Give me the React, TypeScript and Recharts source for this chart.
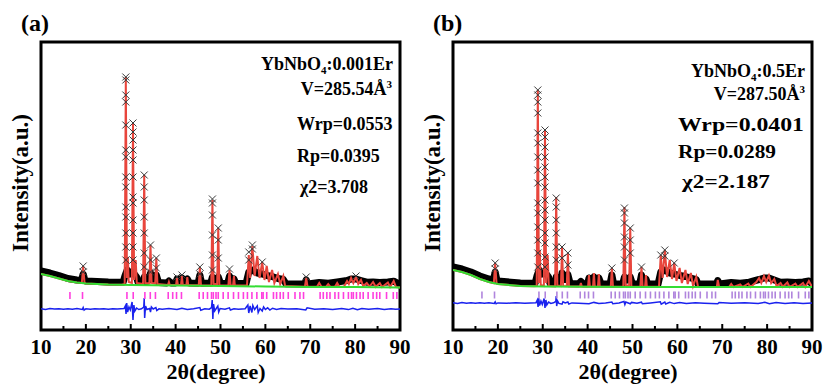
import React from 'react';
import { ComposedChart, Line, Scatter, XAxis, YAxis, ReferenceArea } from 'recharts';

type Pt = [number, number];

// ---------- shared ----------
const xTicks = [10, 15, 20, 25, 30, 35, 40, 45, 50, 55, 60, 65, 70, 75, 80, 85, 90];
const reflections = [
  16.45, 19.25, 29.15, 30.55, 33.15, 34.35, 35.5, 38.35, 39.35, 40.2, 41.3, 45.25, 46.15, 47.1, 48.0, 49.0,
  48.4, 49.5, 50.6, 51.7, 52.9, 54.0, 55.1, 56.0, 57.0, 58.1, 59.2, 59.5, 60.3, 61.8, 62.5, 63.3, 64.0, 65.1,
  66.6, 67.7, 68.5, 72.2, 72.9, 73.7, 74.4, 75.5, 76.3, 77.4, 78.5, 79.2, 79.6, 80.3, 81.1, 81.8, 82.9, 84.0,
  84.8, 85.5, 87.0, 88.5, 89.3,
];

// ---------- panel (a): YbNbO4:0.001Er ----------
const obsBandA: Pt[] = [
  [10, 590], [12, 570], [14, 545], [16, 515], [18, 500], [19, 498], [19.4, 560], [19.8, 494], [20, 490], [25, 480],
  [28.3, 478], [28.7, 540], [29.2, 600], [29.8, 560], [30.3, 580], [30.8, 560], [31.3, 530], [31.6, 478],
  [32.7, 476], [33, 530], [33.4, 478], [34, 500], [34.4, 570], [34.8, 510], [35.3, 505], [35.7, 550], [36.2, 476],
  [38, 470], [38.5, 490], [39, 470], [40, 470], [40.3, 510], [40.8, 478], [41.4, 520], [41.9, 478], [42.6, 510],
  [43.1, 470], [45, 468], [45.4, 550], [45.8, 468], [47.8, 468], [48.2, 530], [48.8, 500], [49.5, 530], [50, 468],
  [51.6, 466], [52, 540], [52.4, 466], [53, 510], [53.4, 466], [55.7, 466], [56.3, 580], [57.1, 600], [58.2, 570],
  [59.3, 560], [60.3, 545], [61.5, 535], [62.8, 515], [64, 505], [64.6, 462], [68.7, 460], [69.1, 500], [69.5, 460],
  [72, 475], [74, 468], [76, 480], [78.2, 495], [79.1, 510], [80.2, 510], [81.3, 495], [82.6, 478], [84, 480],
  [85.5, 476], [87.3, 480], [88.6, 488], [90, 455],
];
const calcA: Pt[] = [
  [10, 560], [12, 540], [14, 515], [16, 490], [18, 475], [19.1, 470], [19.4, 640], [19.7, 468], [20, 465], [25, 455],
  [28, 452], [28.65, 460], [28.9, 2530], [29.15, 520], [29.35, 730], [29.55, 480], [30.25, 470], [30.5, 2060],
  [30.75, 500], [31.1, 700], [31.35, 470], [32.75, 460], [33.0, 1550], [33.25, 470], [34.15, 465], [34.4, 850],
  [34.65, 470], [35.45, 465], [35.7, 720], [35.95, 460], [38.3, 450], [38.5, 480], [38.7, 450], [40.1, 450],
  [40.3, 520], [40.5, 450], [41.2, 450], [41.4, 540], [41.6, 450], [42.4, 450], [42.6, 530], [42.8, 448],
  [45.15, 447], [45.4, 630], [45.65, 447], [47.95, 446], [48.2, 1300], [48.45, 460], [49.25, 455], [49.5, 1020],
  [49.75, 446], [51.75, 445], [52.0, 600], [52.25, 445], [52.8, 445], [53.0, 540], [53.2, 444], [55.9, 444],
  [56.3, 750], [56.6, 520], [57.1, 840], [57.6, 540], [58.2, 740], [58.7, 520], [59.3, 680], [59.8, 500],
  [60.3, 640], [60.8, 480], [61.5, 600], [62.0, 470], [62.8, 560], [63.3, 460], [64.0, 540], [64.4, 440],
  [68.8, 432], [69.1, 520], [69.4, 432], [71.5, 432], [72, 470], [72.5, 432], [73.5, 432], [74, 460], [74.5, 432],
  [75.5, 432], [76, 470], [76.5, 432], [77.5, 432], [78.2, 490], [78.6, 460], [79.1, 520], [79.6, 470], [80.2, 530],
  [80.7, 460], [81.3, 500], [81.8, 440], [82.6, 470], [83.2, 435], [84, 480], [84.6, 432], [85.5, 470], [86, 430],
  [87.3, 475], [87.8, 430], [88.6, 490], [89.1, 430], [90, 425],
];
const backgroundA: Pt[] = [
  [10, 560], [12, 540], [14, 515], [16, 490], [18, 475], [20, 465], [25, 455], [30, 450], [40, 445], [50, 440],
  [60, 435], [70, 430], [80, 430], [90, 425],
];
const obsMarksA: [number, number[]][] = [
  [19.4, [640, 580]],
  [28.9, [2530, 2500, 2350, 2280, 2050, 1800, 1730, 1530, 1430, 1230, 1130, 970, 830, 700]],
  [30.5, [2070, 1980, 1900, 1800, 1700, 1530, 1330, 1270, 1100, 970, 830, 700]],
  [33.0, [1550, 1430, 1300, 1130, 970, 770, 630]],
  [34.4, [850, 700, 580]],
  [35.7, [720, 620]],
  [40.3, [530]], [41.4, [550]],
  [45.4, [630, 560]],
  [48.2, [1310, 1270, 1150, 950, 750, 600]],
  [49.5, [1020, 900, 720]],
  [52.0, [610]],
  [56.3, [780, 700]],
  [57.1, [850, 810]],
  [59.3, [680]],
  [69.1, [530]],
  [80.2, [540]],
];
const diffA: Pt[] = [
  [10, 212], [11, 206], [12, 214], [13, 209], [14, 213], [15, 207], [16, 212], [17, 208], [18, 214], [19.2, 205],
  [19.4, 225], [19.6, 200], [20, 212], [21, 208], [22, 213], [23, 209], [24, 212], [25, 207], [26, 212], [27, 209],
  [28.5, 214], [28.8, 240], [28.95, 160], [29.1, 270], [29.3, 180], [29.6, 230], [29.9, 200], [30.3, 280],
  [30.5, 100], [30.7, 250], [30.9, 190], [31.3, 220], [31.8, 205], [32.4, 212], [32.9, 230], [33.0, 320],
  [33.1, 120], [33.3, 240], [33.6, 205], [34.2, 215], [34.4, 180], [34.6, 230], [35, 210], [35.6, 225],
  [35.8, 195], [36.3, 212], [37, 208], [38.5, 214], [40.3, 205], [41.4, 218], [42.6, 204], [44, 212], [45.4, 225],
  [45.6, 198], [46.5, 212], [47.5, 208], [48.0, 225], [48.15, 300], [48.3, 110], [48.45, 260], [48.7, 190],
  [49.4, 240], [49.6, 180], [49.9, 215], [51, 208], [52, 222], [52.2, 200], [53, 212], [54, 208], [55.5, 212],
  [56.1, 250], [56.3, 170], [56.6, 240], [57.0, 175], [57.2, 245], [57.6, 205], [58.2, 240], [58.4, 175],
  [58.8, 215], [59.3, 190], [59.6, 230], [60, 205], [60.5, 222], [61, 200], [61.6, 218], [62.5, 205], [63.5, 215],
  [65, 209], [67, 213], [69, 200], [69.3, 222], [71, 208], [73, 213], [75, 206], [77, 214], [78.5, 204],
  [79.5, 218], [80.5, 202], [81.5, 215], [83, 207], [85, 214], [86.5, 206], [88, 213], [89, 207], [90, 211],
];

// ---------- panel (b): YbNbO4:0.5Er ----------
const obsBandB: Pt[] = [
  [10, 630], [12, 610], [14, 580], [16, 540], [18, 510], [19, 500], [19.4, 580], [19.8, 495], [20, 490], [25, 470],
  [28.3, 468], [28.7, 540], [29.2, 600], [29.8, 560], [30.3, 580], [30.8, 560], [31.3, 530], [31.6, 468],
  [32.7, 466], [33, 530], [33.4, 470], [34, 500], [34.3, 570], [34.8, 505], [35.3, 505], [35.6, 555], [36.1, 466],
  [38, 462], [38.5, 485], [39, 462], [40, 462], [40.3, 520], [40.8, 475], [41.4, 530], [41.9, 475], [42.5, 520],
  [43, 462], [45, 460], [45.4, 550], [45.8, 460], [47.8, 460], [48.2, 530], [48.8, 500], [49.5, 530], [50, 460],
  [51.6, 460], [52, 550], [52.4, 460], [53, 510], [53.4, 460], [55.7, 460], [56.3, 580], [57.2, 600], [58.3, 570],
  [59.3, 560], [60.5, 545], [61.8, 535], [63, 520], [64.2, 505], [64.6, 460], [68.7, 460], [69, 495], [69.4, 460],
  [72, 475], [74, 468], [76, 478], [78.2, 505], [79.3, 520], [80.4, 520], [81.6, 500], [83, 478], [84.5, 480],
  [86.3, 476], [88, 480], [89.3, 490], [90, 460],
];
const calcB: Pt[] = [
  [10, 600], [12, 580], [14, 550], [16, 510], [18, 480], [19.1, 468], [19.4, 670], [19.7, 465], [20, 460], [25, 440],
  [28, 437], [28.65, 440], [28.9, 2400], [29.15, 470], [29.35, 800], [29.55, 450], [30.25, 440], [30.5, 2000],
  [30.75, 470], [31.1, 750], [31.35, 440], [32.75, 436], [33.0, 1330], [33.25, 445], [34.05, 440], [34.3, 830],
  [34.55, 440], [35.35, 438], [35.6, 770], [35.85, 436], [38.3, 434], [38.5, 470], [38.7, 434], [40.1, 433],
  [40.3, 550], [40.5, 433], [41.2, 433], [41.4, 570], [41.6, 433], [42.3, 433], [42.5, 560], [42.7, 433],
  [45.15, 432], [45.4, 620], [45.65, 432], [47.95, 432], [48.2, 1230], [48.45, 450], [49.25, 440], [49.5, 1020],
  [49.75, 432], [51.75, 432], [52.0, 630], [52.25, 432], [52.8, 432], [53.0, 550], [53.2, 432], [55.9, 432],
  [56.3, 750], [56.7, 520], [57.2, 800], [57.7, 530], [58.3, 700], [58.8, 510], [59.3, 670], [59.8, 490],
  [60.5, 620], [61, 470], [61.8, 600], [62.3, 460], [63, 570], [63.5, 440], [64.2, 530], [64.6, 431], [68.8, 430],
  [69.0, 500], [69.3, 430], [71.5, 430], [72, 460], [72.5, 430], [74, 455], [74.5, 430], [75.8, 465], [76.3, 430],
  [77.6, 480], [78.2, 520], [78.7, 470], [79.3, 540], [79.8, 480], [80.4, 545], [80.9, 470], [81.6, 510],
  [82.1, 440], [83, 470], [83.5, 432], [84.5, 475], [85, 430], [86.3, 465], [86.8, 430], [88, 470], [88.5, 430],
  [89.3, 490], [90, 430],
];
const backgroundB: Pt[] = [
  [10, 600], [12, 580], [14, 550], [16, 510], [18, 480], [20, 460], [25, 440], [30, 435], [40, 432], [50, 430],
  [60, 430], [70, 430], [80, 430], [90, 430],
];
const obsMarksB: [number, number[]][] = [
  [19.4, [670, 610]],
  [28.9, [2400, 2350, 2280, 2170, 1970, 1870, 1730, 1600, 1470, 1270, 1170, 1030, 900, 770, 630]],
  [30.5, [2000, 1930, 1830, 1730, 1630, 1530, 1430, 1300, 1200, 1100, 970, 870, 730, 630]],
  [33.0, [1320, 1230, 1100, 970, 830, 700]],
  [34.3, [830, 720]],
  [35.6, [770, 650]],
  [45.4, [620]],
  [48.2, [1220, 1170, 1070, 930, 830, 700]],
  [49.5, [1020, 900, 770]],
  [52.0, [630]],
  [56.3, [750]],
  [57.2, [800, 740]],
  [59.3, [670]],
];
const diffB: Pt[] = [
  [10, 272], [11, 266], [12, 274], [13, 268], [14, 273], [15, 267], [16, 272], [17, 268], [18, 273], [19.2, 266],
  [19.4, 282], [19.6, 262], [20, 271], [22, 268], [24, 272], [26, 268], [28.5, 273], [28.8, 300], [28.95, 230],
  [29.1, 320], [29.3, 245], [29.6, 290], [29.9, 255], [30.3, 315], [30.5, 220], [30.7, 300], [30.9, 250],
  [31.3, 280], [31.8, 266], [32.4, 272], [32.9, 285], [33.0, 340], [33.1, 240], [33.3, 290], [33.6, 266],
  [34.3, 258], [34.5, 282], [35, 270], [35.6, 280], [35.8, 260], [36.5, 271], [38, 268], [40.3, 262], [41.4, 276],
  [42.5, 264], [44, 271], [45.4, 280], [45.6, 262], [47, 270], [48.1, 285], [48.3, 255], [48.5, 280], [49.5, 262],
  [49.8, 276], [51, 268], [52, 278], [52.2, 262], [54, 271], [56.2, 282], [56.4, 258], [57.2, 280], [57.4, 260],
  [58.3, 276], [59.3, 264], [60.5, 276], [62, 265], [64, 272], [66, 267], [69, 262], [69.3, 276], [72, 268],
  [75, 273], [78, 264], [79.5, 277], [80.5, 263], [82, 274], [84, 266], [86, 273], [88, 266], [90, 271],
];

// ---------- helpers ----------
const rows = (pts: Pt[]) => pts.map(([x, y]) => ({ x, y }));
const markRows = (m: [number, number[]][]) => m.flatMap(([x, hs]) => hs.map((y) => ({ x, y })));
const serif = '"Liberation Serif", "Times New Roman", Times, "DejaVu Serif", serif';
const fontStyle = (size: number): React.CSSProperties => ({ fontFamily: serif, fontWeight: 700, fontSize: size });

const XMark = (p: any) => {
  const { cx, cy } = p;
  const s = 3.5;
  return (
    <path
      d={`M${cx - s},${cy - s}L${cx + s},${cy + s}M${cx + s},${cy - s}L${cx - s},${cy + s}`}
      stroke="#3a3a3a"
      strokeWidth={1}
      fill="none"
    />
  );
};
const makeBar = (color: string) => (p: any) => {
  const { cx, cy } = p;
  return <line x1={cx} x2={cx} y1={cy - 3.5} y2={cy + 3.5} stroke={color} strokeWidth={1.6} />;
};

const AxisTick = (p: any) => {
  const { x, y, payload } = p;
  const v = payload.value;
  const major = v % 10 === 0;
  return (
    <g>
      <line x1={x} x2={x} y1={y - (major ? 6 : 4)} y2={y} stroke="#000" strokeWidth={2} />
      {major && (
        <text x={x} y={y + 24} textAnchor="middle" style={fontStyle(21)} fill="#000">
          {v}
        </text>
      )}
    </g>
  );
};

type PanelProps = {
  tag: string;
  obsBand: Pt[];
  calc: Pt[];
  bg: Pt[];
  marks: [number, number[]][];
  diff: Pt[];
  reflY: number;
  reflColor: string;
  texts: React.ReactNode;
};

const Panel = ({ tag, obsBand, calc, bg, marks, diff, reflY, reflColor, texts }: PanelProps) => {
  const refl = reflections.map((x) => ({ x, y: reflY }));
  return (
    <ComposedChart width={413} height={389} margin={{ top: 42, right: 13, bottom: 29, left: 41 }}>
      <XAxis
        type="number"
        dataKey="x"
        domain={[10, 90]}
        ticks={xTicks}
        allowDataOverflow
        axisLine={false}
        tickLine={false}
        tickSize={0}
        tickMargin={0}
        height={30}
        tick={<AxisTick />}
        interval={0}
      />
      <YAxis type="number" dataKey="y" domain={[0, 2880]} hide allowDataOverflow />
      <Line data={rows(obsBand)} dataKey="y" stroke="#000" strokeWidth={7} dot={false} activeDot={false} isAnimationActive={false} strokeLinejoin="round" />
      <Line data={rows(calc)} dataKey="y" stroke="#e8453c" strokeWidth={2} dot={false} activeDot={false} isAnimationActive={false} />
      <Line data={rows(bg)} dataKey="y" stroke="#33dd33" strokeWidth={2} dot={false} activeDot={false} isAnimationActive={false} />
      <Scatter data={markRows(marks)} dataKey="y" shape={XMark} isAnimationActive={false} />
      <Scatter data={refl} dataKey="y" shape={makeBar(reflColor)} isAnimationActive={false} />
      <Line data={rows(diff)} dataKey="y" stroke="#1a22ee" strokeWidth={1.5} dot={false} activeDot={false} isAnimationActive={false} />
      <ReferenceArea x1={10} x2={90} y1={0} y2={2880} fill="none" fillOpacity={0} stroke="#000" strokeWidth={3} ifOverflow="visible" />
      <text x={21} y={31} style={fontStyle(24)} fill="#000">{tag}</text>
      <text transform="rotate(-90)" x={-183} y={28} textAnchor="middle" style={fontStyle(23)} fill="#000">
        Intensity(a.u.)
      </text>
      <text x={216} y={379} textAnchor="middle" style={fontStyle(22)} fill="#000">
        2θ(degree)
      </text>
      {texts}
    </ComposedChart>
  );
};

const textsA = (
  <g fill="#000">
    <text x={393} y={70} textAnchor="end" style={fontStyle(18)}>
      YbNbO<tspan style={{ fontSize: 11 }} dy={4}>4</tspan><tspan dy={-4}>:0.001Er</tspan>
    </text>
    <text x={392} y={95} textAnchor="end" style={fontStyle(18)}>
      V=285.54Å<tspan style={{ fontSize: 11 }} dy={-7}>3</tspan>
    </text>
    <text x={297} y={130} style={fontStyle(18)}>Wrp=0.0553</text>
    <text x={297} y={162} style={fontStyle(18)}>Rp=0.0395</text>
    <text x={300} y={193} style={fontStyle(18)}>χ2=3.708</text>
  </g>
);
const textsB = (
  <g fill="#000">
    <text x={393} y={77} textAnchor="end" style={fontStyle(18)}>
      YbNbO<tspan style={{ fontSize: 11 }} dy={4}>4</tspan><tspan dy={-4}>:0.5Er</tspan>
    </text>
    <text x={393} y={100} textAnchor="end" style={fontStyle(18)}>
      V=287.50Å<tspan style={{ fontSize: 11 }} dy={-7}>3</tspan>
    </text>
    <text x={266} y={131} style={fontStyle(19)} textLength={126} lengthAdjust="spacingAndGlyphs">Wrp=0.0401</text>
    <text x={266} y={158} style={fontStyle(19)} textLength={98} lengthAdjust="spacingAndGlyphs">Rp=0.0289</text>
    <text x={270} y={188} style={fontStyle(19)} textLength={88} lengthAdjust="spacingAndGlyphs">χ2=2.187</text>
  </g>
);

export default function App() {
  return (
    <div style={{ position: 'absolute', left: 0, top: 0, width: 827, height: 389, background: '#fff' }}>
      <div style={{ position: 'absolute', left: 0, top: 0 }}>
        <Panel tag="(a)" obsBand={obsBandA} calc={calcA} bg={backgroundA} marks={obsMarksA} diff={diffA} reflY={345} reflColor="#ff3fdf" texts={textsA} />
      </div>
      <div style={{ position: 'absolute', left: 412, top: 0 }}>
        <Panel tag="(b)" obsBand={obsBandB} calc={calcB} bg={backgroundB} marks={obsMarksB} diff={diffB} reflY={350} reflColor="#b085dd" texts={textsB} />
      </div>
    </div>
  );
}
